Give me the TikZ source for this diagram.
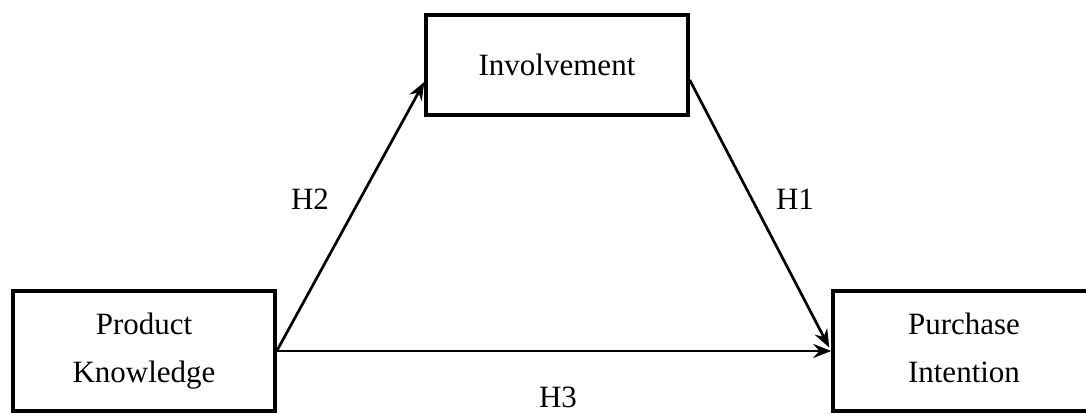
\documentclass[tikz,border=0pt]{standalone}
\usepackage{fontspec}
\setmainfont{Liberation Serif}
\usetikzlibrary{arrows.meta,calc}
\begin{document}
\begin{tikzpicture}[x=1pt,y=-1pt,
  box/.style={draw=black,line width=3.5pt,minimum width=262pt,minimum height=120pt,inner sep=0pt,align=center,font=\fontsize{31}{48}\selectfont},
  conn/.style={draw=black,line width=2.7pt,-{Stealth[length=18pt,width=14pt,inset=6pt]}},
  hyp/.style={font=\fontsize{31}{30}\selectfont,inner sep=0pt}]
\useasboundingbox (0,0) rectangle (1086,414);
\node[box,minimum height=100pt] (inv) at (557,65) {Involvement};
\node[box] (pk) at (144,351) {Product\\Knowledge};
\node[box] (pi) at (964,351) {Purchase\\Intention\vphantom{g}};
\draw[conn] ($(pk.east)+(0,0)$) -- ($(inv.west)+(0,17)$);
\draw[conn] ($(inv.east)+(0,15)$) -- ($(pi.west)+(-2,-3.5)$);
\draw[conn] ($(pk.east)+(0,0)$) -- ($(pi.west)+(0,0)$);
\node[hyp] (h2) at (310,199) {H2};
\node[hyp] (h1) at (795,199) {H1};
\node[hyp] (h3) at (558,397) {H3};
\end{tikzpicture}
\end{document}
